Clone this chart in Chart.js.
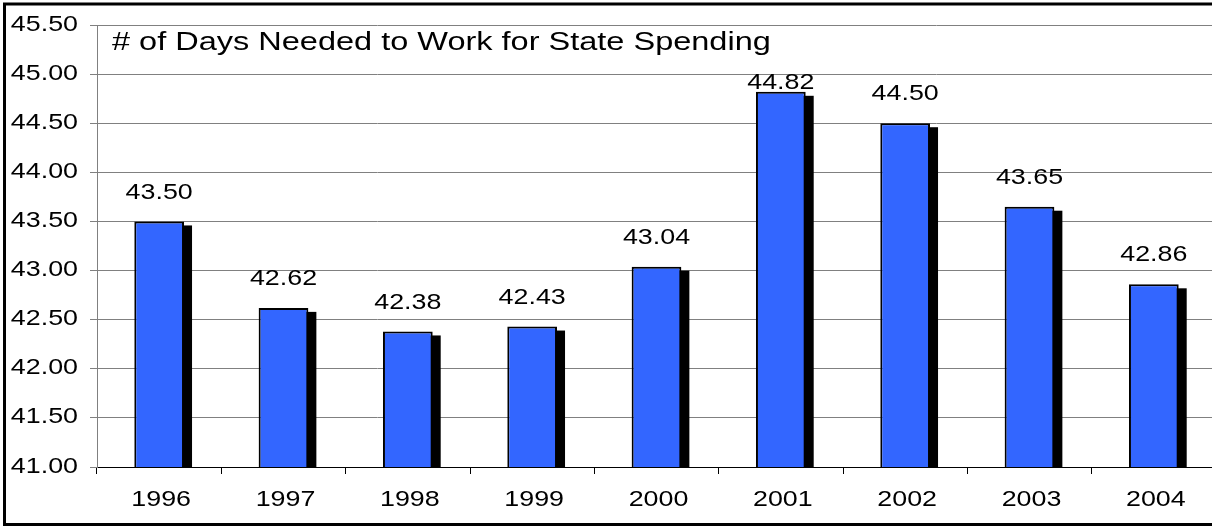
<!DOCTYPE html>
<html>
<head>
<meta charset="utf-8">
<script src="https://cdn.jsdelivr.net/npm/chart.js@4"></script>
<style>
    html, body { margin: 0; padding: 0; background: #fff; overflow: hidden; }
    #wrap { width: 1216px; height: 528px; }
</style>
</head>
<body>
<div id="wrap"><canvas id="daysChart" width="1216" height="528"></canvas></div>
<script>
const years = ['1996', '1997', '1998', '1999', '2000', '2001', '2002', '2003', '2004'];
const days = [43.50, 42.62, 42.38, 42.43, 43.04, 44.82, 44.50, 43.65, 42.86];
const yTicks = [41.00, 41.50, 42.00, 42.50, 43.00, 43.50, 44.00, 44.50, 45.00, 45.50];
const title = '# of Days Needed to Work for State Spending';

const FONT = '"Liberation Sans", Arial, sans-serif';

// text in this chart is wide, so draw it stretched horizontally
function wideText(ctx, text, x, y, size, sx, align) {
    ctx.save();
    ctx.translate(x, y);
    ctx.scale(sx, 1);
    ctx.font = size + 'px ' + FONT;
    ctx.fillStyle = '#000';
    ctx.textAlign = align;
    ctx.textBaseline = 'middle';
    ctx.fillText(text, 0, 0);
    ctx.restore();
}

const shadowPlugin = {
    id: 'barShadow',
    beforeDatasetsDraw(chart) {
        const { ctx, chartArea } = chart;
        const meta = chart.getDatasetMeta(0);
        ctx.save();
        ctx.beginPath();
        ctx.rect(chartArea.left, chartArea.top, chartArea.right - chartArea.left, chartArea.bottom - chartArea.top);
        ctx.clip();
        ctx.fillStyle = '#000';
        meta.data.forEach(bar => {
            const half = bar.width / 2;
            ctx.fillRect(bar.x - half + 8, bar.y + 4, bar.width, bar.base - bar.y);
        });
        ctx.restore();
    }
};

const textPlugin = {
    id: 'chartText',
    afterDatasetsDraw(chart) {
        const { ctx, chartArea, scales } = chart;
        const meta = chart.getDatasetMeta(0);

        // value labels above each bar, kept inside the plot
        meta.data.forEach((bar, i) => {
            const y = Math.max(bar.y - 29, chartArea.top + 58);
            wideText(ctx, days[i].toFixed(2), bar.x, y, 22, 1.22, 'center');
        });

        // y tick labels
        yTicks.forEach(v => {
            wideText(ctx, v.toFixed(2), 78, scales.y.getPixelForValue(v) - 0.5, 22, 1.22, 'right');
        });

        // category labels
        years.forEach((yr, i) => {
            wideText(ctx, yr, scales.x.getPixelForValue(i) + 2, 500, 22, 1.22, 'center');
        });

        // title inside the plot
        wideText(ctx, title, 112, 43, 25, 1.3, 'left');
    },
    afterDraw(chart) {
        // frame round the chart (right side runs off the page)
        const ctx = chart.ctx;
        ctx.save();
        ctx.strokeStyle = '#000';
        ctx.lineWidth = 3;
        ctx.beginPath();
        ctx.moveTo(1300, 4);
        ctx.lineTo(4.5, 4);
        ctx.lineTo(4.5, 524.5);
        ctx.lineTo(1300, 524.5);
        ctx.stroke();
        ctx.restore();
    }
};

new Chart(document.getElementById('daysChart'), {
    type: 'bar',
    data: {
        labels: years,
        datasets: [{
            data: days,
            backgroundColor: '#3366FF',
            borderColor: '#000',
            borderWidth: 2,
            borderSkipped: 'bottom',
            categoryPercentage: 1,
            barPercentage: 0.4
        }]
    },
    options: {
        responsive: false,
        animation: false,
        layout: { padding: { left: 0, top: 25, right: 0, bottom: 0 } },
        plugins: {
            legend: { display: false },
            tooltip: { enabled: false }
        },
        scales: {
            x: {
                ticks: { display: false },
                grid: {
                    offset: true,
                    drawOnChartArea: false,
                    tickLength: 7,
                    color: '#000'
                },
                border: { color: '#000', width: 1 },
                afterFit(scale) { scale.height = 61; }
            },
            y: {
                min: 41,
                max: 45.5,
                ticks: { display: false },
                afterBuildTicks(scale) {
                    scale.ticks = yTicks.map(v => ({ value: v }));
                },
                grid: { color: '#808080', tickLength: 7 },
                border: { color: '#808080', width: 1 },
                afterFit(scale) { scale.width = 97; }
            }
        }
    },
    plugins: [shadowPlugin, textPlugin]
});
</script>
</body>
</html>
